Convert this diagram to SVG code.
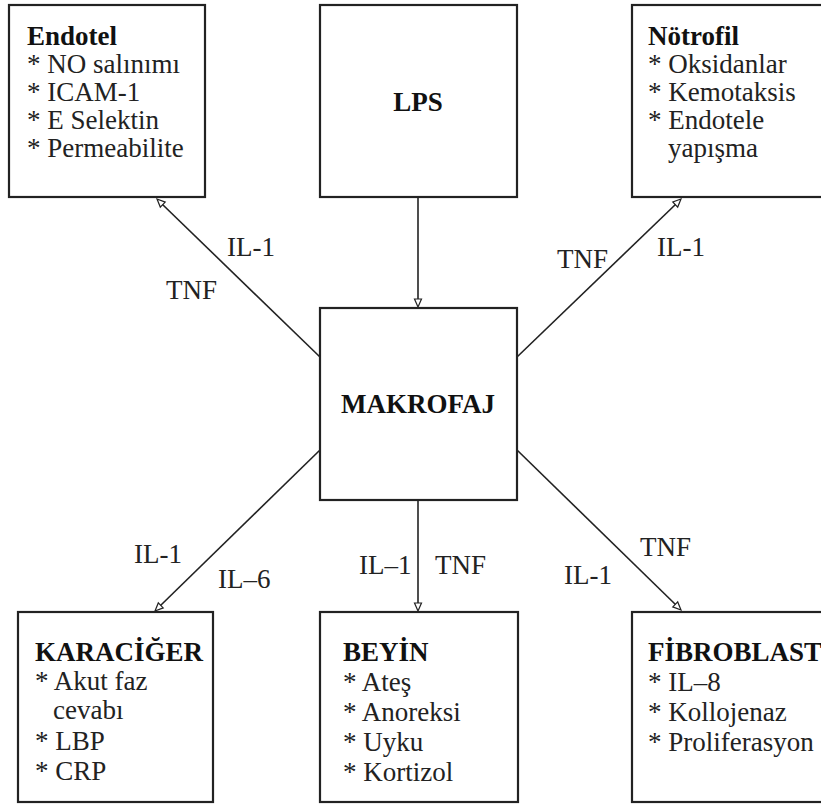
<svg xmlns="http://www.w3.org/2000/svg" width="821" height="808" viewBox="0 0 821 808">
<defs>
<style>
.box{fill:#fff;stroke:#222;stroke-width:2.2}
.c{stroke:#222;stroke-width:1.6;fill:none}
.h{fill:#fff;stroke:#222;stroke-width:1.2}
</style>
</defs>
<rect width="821" height="808" fill="#fff"/>
<g id="connectors">
<line class="c" x1="418" y1="197" x2="418" y2="301"/>
<line class="c" x1="320" y1="357" x2="162" y2="204"/>
<line class="c" x1="517" y1="357" x2="676" y2="204"/>
<line class="c" x1="320" y1="450" x2="160" y2="606"/>
<line class="c" x1="418" y1="500" x2="418" y2="605"/>
<line class="c" x1="517" y1="450" x2="676" y2="605"/>
<polygon class="h" points="418,307 414.5,299 421.5,299"/>
<polygon class="h" points="157,199 165.2,202.1 160.3,207.1"/>
<polygon class="h" points="681,199 677.7,207.1 672.8,202"/>
<polygon class="h" points="155,611 163.2,607.9 158.3,602.9"/>
<polygon class="h" points="418,611 414.5,603 421.5,603"/>
<polygon class="h" points="681,610 672.8,606.9 677.7,601.9"/>
<text x="227" y="256" style="font-family:'Liberation Serif',serif !important;font-size:27px;font-weight:normal;fill:#222">IL-1</text>
<text x="166" y="299" style="font-family:'Liberation Serif',serif !important;font-size:27px;font-weight:normal;fill:#222">TNF</text>
<text x="557" y="268" style="font-family:'Liberation Serif',serif !important;font-size:27px;font-weight:normal;fill:#222">TNF</text>
<text x="657" y="256" style="font-family:'Liberation Serif',serif !important;font-size:27px;font-weight:normal;fill:#222">IL-1</text>
<text x="134" y="563" style="font-family:'Liberation Serif',serif !important;font-size:27px;font-weight:normal;fill:#222">IL-1</text>
<text x="218" y="588" style="font-family:'Liberation Serif',serif !important;font-size:27px;font-weight:normal;fill:#222">IL–6</text>
<text x="359" y="574" style="font-family:'Liberation Serif',serif !important;font-size:27px;font-weight:normal;fill:#222">IL–1</text>
<text x="435" y="574" style="font-family:'Liberation Serif',serif !important;font-size:27px;font-weight:normal;fill:#222">TNF</text>
<text x="564" y="584" style="font-family:'Liberation Serif',serif !important;font-size:27px;font-weight:normal;fill:#222">IL-1</text>
<text x="640" y="556" style="font-family:'Liberation Serif',serif !important;font-size:27px;font-weight:normal;fill:#222">TNF</text>
</g>
<g id="endotel">
<rect class="box" x="9" y="5" width="196" height="192"/>
<text x="27" y="45" style="font-family:'Liberation Serif',serif !important;font-size:27px;font-weight:bold;fill:#111">Endotel</text>
<text x="27" y="73" style="font-family:'Liberation Serif',serif !important;font-size:27px;font-weight:normal;fill:#222">* NO salınımı</text>
<text x="27" y="101" style="font-family:'Liberation Serif',serif !important;font-size:27px;font-weight:normal;fill:#222">* ICAM-1</text>
<text x="27" y="129" style="font-family:'Liberation Serif',serif !important;font-size:27px;font-weight:normal;fill:#222">* E Selektin</text>
<text x="27" y="157" style="font-family:'Liberation Serif',serif !important;font-size:27px;font-weight:normal;fill:#222">* Permeabilite</text>
</g>
<g id="lps">
<rect class="box" x="320" y="5" width="197" height="192"/>
<text x="418" y="111" text-anchor="middle" style="font-family:'Liberation Serif',serif !important;font-size:27px;font-weight:bold;fill:#111">LPS</text>
</g>
<g id="notrofil">
<rect class="box" x="632" y="5" width="200" height="192"/>
<text x="648" y="45" style="font-family:'Liberation Serif',serif !important;font-size:27px;font-weight:bold;fill:#111">Nötrofil</text>
<text x="648" y="73" style="font-family:'Liberation Serif',serif !important;font-size:27px;font-weight:normal;fill:#222">* Oksidanlar</text>
<text x="648" y="101" style="font-family:'Liberation Serif',serif !important;font-size:27px;font-weight:normal;fill:#222">* Kemotaksis</text>
<text x="648" y="129" style="font-family:'Liberation Serif',serif !important;font-size:27px;font-weight:normal;fill:#222">* Endotele</text>
<text x="668" y="157" style="font-family:'Liberation Serif',serif !important;font-size:27px;font-weight:normal;fill:#222">yapışma</text>
</g>
<g id="makrofaj">
<rect class="box" x="320" y="308" width="197" height="192"/>
<text x="418" y="413" text-anchor="middle" style="font-family:'Liberation Serif',serif !important;font-size:27px;font-weight:bold;fill:#111">MAKROFAJ</text>
</g>
<g id="karaciger">
<rect class="box" x="18" y="612" width="195" height="190"/>
<text x="35" y="661" style="font-family:'Liberation Serif',serif !important;font-size:27px;font-weight:bold;fill:#111">KARACİĞER</text>
<text x="35" y="690" style="font-family:'Liberation Serif',serif !important;font-size:27px;font-weight:normal;fill:#222">* Akut faz</text>
<text x="53" y="719" style="font-family:'Liberation Serif',serif !important;font-size:27px;font-weight:normal;fill:#222">cevabı</text>
<text x="35" y="750" style="font-family:'Liberation Serif',serif !important;font-size:27px;font-weight:normal;fill:#222">* LBP</text>
<text x="35" y="780" style="font-family:'Liberation Serif',serif !important;font-size:27px;font-weight:normal;fill:#222">* CRP</text>
</g>
<g id="beyin">
<rect class="box" x="320" y="612" width="198" height="190"/>
<text x="343" y="661" style="font-family:'Liberation Serif',serif !important;font-size:27px;font-weight:bold;fill:#111">BEYİN</text>
<text x="343" y="691" style="font-family:'Liberation Serif',serif !important;font-size:27px;font-weight:normal;fill:#222">* Ateş</text>
<text x="343" y="721" style="font-family:'Liberation Serif',serif !important;font-size:27px;font-weight:normal;fill:#222">* Anoreksi</text>
<text x="343" y="751" style="font-family:'Liberation Serif',serif !important;font-size:27px;font-weight:normal;fill:#222">* Uyku</text>
<text x="343" y="781" style="font-family:'Liberation Serif',serif !important;font-size:27px;font-weight:normal;fill:#222">* Kortizol</text>
</g>
<g id="fibroblast">
<rect class="box" x="632" y="612" width="200" height="190"/>
<text x="648" y="661" style="font-family:'Liberation Serif',serif !important;font-size:27px;font-weight:bold;fill:#111">FİBROBLAST</text>
<text x="648" y="691" style="font-family:'Liberation Serif',serif !important;font-size:27px;font-weight:normal;fill:#222">* IL–8</text>
<text x="648" y="721" style="font-family:'Liberation Serif',serif !important;font-size:27px;font-weight:normal;fill:#222">* Kollojenaz</text>
<text x="648" y="751" style="font-family:'Liberation Serif',serif !important;font-size:27px;font-weight:normal;fill:#222">* Proliferasyon</text>
</g>
</svg>
